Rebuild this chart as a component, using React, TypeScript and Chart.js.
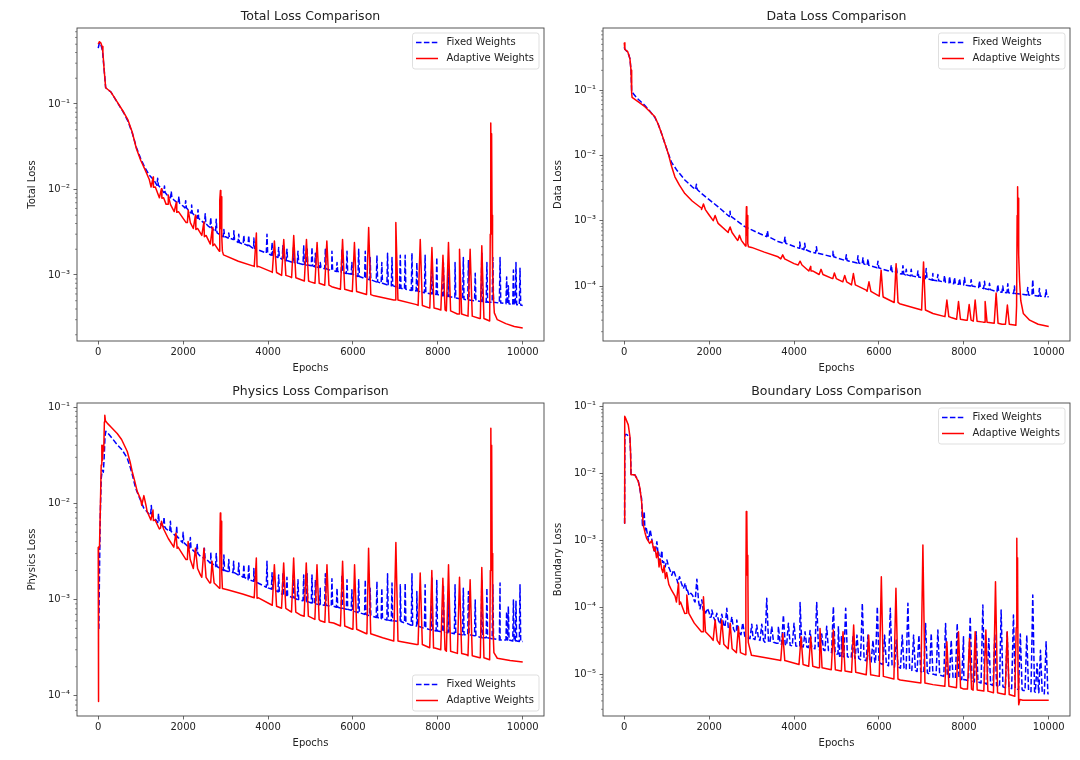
import React, { useEffect, useRef } from "react";
import { Chart, registerables } from "chart.js";

Chart.register(...registerables);

type Pt = [number, number];
type Spike = [number, number, number]; // [epoch, foot value, peak value]

// ---------------- axis ticks / labels ----------------
const epochTicks = [0, 2000, 4000, 6000, 8000, 10000];
const totalDecades = [-3, -2, -1];
const dataDecades = [-4, -3, -2, -1];
const physicsDecades = [-4, -3, -2, -1];
const boundaryDecades = [-5, -4, -3, -2, -1];
const seriesNames = ["Fixed Weights", "Adaptive Weights"];
const minorMultipliers = [2, 3, 4, 5, 6, 7, 8, 9];

// ---------------- Total loss ----------------
const fixedTotal: Pt[] = [
  [0, 0.45], [20, 0.5], [40, 0.52], [70, 0.48], [100, 0.42], [140, 0.25], [175, 0.155], [300, 0.138],
  [450, 0.104], [600, 0.079], [700, 0.063], [800, 0.046], [900, 0.031], [1000, 0.023], [1100, 0.018],
  [1200, 0.0148], [1310, 0.0129], [1450, 0.0107], [1623, 0.0086], [1800, 0.0074], [2015, 0.0063],
  [2200, 0.0053], [2407, 0.0044], [2600, 0.0037], [2800, 0.0031], [3000, 0.0028], [3190, 0.0026],
  [3400, 0.0023], [3661, 0.00205], [4000, 0.00178], [4368, 0.0015], [4760, 0.00135], [5153, 0.00124],
  [5500, 0.00113], [5936, 0.00103], [6329, 0.0009], [6800, 0.00077], [7300, 0.00067], [7898, 0.0006],
  [8400, 0.00054], [9075, 0.00049], [9500, 0.00047], [9999, 0.00044],
];
const fixedTotalSpikes: Spike[] = [
  [1400, 0.0112, 0.0135], [1560, 0.0092, 0.011], [1720, 0.008, 0.0095], [1900, 0.0069, 0.0083],
  [2060, 0.0061, 0.0074], [2200, 0.0053, 0.0066], [2350, 0.0046, 0.0058], [2520, 0.004, 0.0052],
  [2650, 0.0036, 0.0047], [2780, 0.0032, 0.0045], [2960, 0.0028, 0.0034], [3075, 0.0027, 0.0031],
  [3195, 0.0026, 0.0033], [3310, 0.0024, 0.003], [3430, 0.0023, 0.0029], [3545, 0.0022, 0.0029],
  [3665, 0.00205, 0.0027], [3975, 0.0018, 0.003], [4095, 0.0017, 0.0024], [4250, 0.0016, 0.0021],
  [4350, 0.00152, 0.0022], [4445, 0.00147, 0.002], [4600, 0.0014, 0.0021], [4705, 0.00137, 0.0019],
  [4840, 0.00133, 0.0022], [4920, 0.00131, 0.0021], [5035, 0.00128, 0.0021], [5115, 0.00125, 0.0018],
  [5230, 0.00122, 0.0014], [5350, 0.00118, 0.002], [5505, 0.00113, 0.0019], [5625, 0.0011, 0.0014],
  [5740, 0.00107, 0.002], [5860, 0.00104, 0.0019], [5975, 0.00102, 0.0014], [6135, 0.00096, 0.002],
  [6290, 0.00091, 0.0019], [6405, 0.00088, 0.0016], [6565, 0.00083, 0.0017], [6680, 0.0008, 0.0014],
  [6815, 0.00077, 0.0018], [6920, 0.00075, 0.0016], [7115, 0.0007, 0.0017], [7230, 0.00068, 0.0017],
  [7390, 0.00066, 0.0018], [7505, 0.00065, 0.0014], [7700, 0.00062, 0.0017], [7860, 0.0006, 0.0016],
  [7975, 0.00059, 0.0016], [8130, 0.00057, 0.0014], [8250, 0.00056, 0.0012], [8405, 0.00054, 0.0014],
  [8600, 0.00052, 0.0016], [8720, 0.00051, 0.0015], [8880, 0.0005, 0.00105], [9035, 0.00049, 0.0018],
  [9155, 0.00048, 0.0014], [9295, 0.00048, 0.0016], [9465, 0.00047, 0.0016], [9620, 0.00046, 0.00095],
  [9660, 0.00046, 0.00075], [9780, 0.00045, 0.00114], [9840, 0.00045, 0.0014], [9935, 0.000445, 0.0012],
];
const adaptiveTotal: Pt[] = [
  [0, 0.5], [25, 0.535], [60, 0.52], [90, 0.47], [110, 0.4], [140, 0.25], [175, 0.155], [300, 0.138],
  [450, 0.105], [600, 0.08], [700, 0.065], [800, 0.047], [900, 0.03], [1000, 0.022], [1100, 0.0172],
  [1200, 0.0132], [1300, 0.0106], [1500, 0.0079], [1650, 0.0067], [1850, 0.0054], [2000, 0.0046],
  [2100, 0.0041], [2300, 0.0034], [2500, 0.0028], [2700, 0.0022], [2850, 0.0019],
  [2858, 0.0019], [2868, 0.0075], [2878, 0.0097], [2888, 0.0035], [2898, 0.0082], [2910, 0.0028],
  [2925, 0.0019], [2950, 0.00172], [3300, 0.00145], [3741, 0.00125], [4100, 0.00108], [4525, 0.00095],
  [5000, 0.00083], [5500, 0.00073], [6000, 0.00064], [6500, 0.00057], [7000, 0.00051], [7500, 0.00045],
  [8000, 0.0004], [8500, 0.00035], [9000, 0.00031], [9220, 0.00029],
  [9234, 0.003], [9246, 0.06], [9256, 0.012], [9266, 0.045], [9276, 0.005], [9288, 0.0012],
  [9305, 0.0006], [9330, 0.00036], [9400, 0.0003], [9600, 0.00027], [9800, 0.00025], [9999, 0.00024],
];
const adaptiveTotalSpikes: Spike[] = [
  [1295, 0.0107, 0.014], [1490, 0.008, 0.0102], [1650, 0.0067, 0.0086], [1840, 0.0055, 0.0071],
  [2120, 0.0041, 0.0057], [2290, 0.0035, 0.005], [2490, 0.0029, 0.0042], [2690, 0.0023, 0.0036],
  [3725, 0.00126, 0.0031], [4150, 0.00107, 0.0025], [4370, 0.00099, 0.0026], [4605, 0.00093, 0.0029],
  [4905, 0.00085, 0.0026], [5155, 0.0008, 0.0024], [5385, 0.00076, 0.0025], [5755, 0.00068, 0.0026],
  [6035, 0.00064, 0.0024], [6370, 0.00059, 0.0036], [7010, 0.00051, 0.0041], [7585, 0.00044, 0.0026],
  [7860, 0.00041, 0.0021], [8120, 0.00039, 0.0017], [8250, 0.00038, 0.0024], [8510, 0.00035, 0.002],
  [8760, 0.00033, 0.002], [9035, 0.00031, 0.0022],
];

// ---------------- Data loss ----------------
const fixedData: Pt[] = [
  [0, 0.45], [15, 0.42], [50, 0.4], [80, 0.38], [110, 0.34], [135, 0.3], [160, 0.2], [175, 0.095],
  [190, 0.092], [300, 0.075], [487, 0.058], [600, 0.048], [722, 0.038], [800, 0.03], [880, 0.0215],
  [960, 0.015], [1036, 0.0108], [1115, 0.0078], [1250, 0.0058], [1428, 0.0042], [1600, 0.0033],
  [1821, 0.0026], [2000, 0.0021], [2212, 0.00163], [2500, 0.00115], [2840, 0.00081], [3200, 0.00063],
  [3623, 0.00048], [4134, 0.00038], [4409, 0.00033], [4916, 0.000282], [5300, 0.00024], [5700, 0.00021],
  [6100, 0.00018], [6487, 0.000155], [6900, 0.000138], [7271, 0.000123], [7650, 0.000112],
  [8055, 0.000103], [8450, 0.000092], [8840, 0.0000813], [9200, 0.000077], [9600, 0.000072],
  [9999, 0.0000684],
];
const fixedDataSpikes: Spike[] = [
  [1700, 0.003, 0.0036], [2494, 0.00116, 0.0014], [3374, 0.00057, 0.0007], [3786, 0.00045, 0.00056],
  [4134, 0.00038, 0.00047], [4252, 0.00036, 0.00045], [4527, 0.00032, 0.0004], [4918, 0.00028, 0.00034],
  [5231, 0.000245, 0.0003], [5506, 0.000225, 0.00029], [5624, 0.000218, 0.00027], [5741, 0.000207, 0.00026],
  [5976, 0.00019, 0.00024], [6290, 0.000167, 0.00021], [6408, 0.00016, 0.0002], [6565, 0.000152, 0.000205],
  [6643, 0.000148, 0.00018], [6760, 0.000143, 0.00018], [6918, 0.000137, 0.00017], [7113, 0.00013, 0.000185],
  [7270, 0.000123, 0.000155], [7388, 0.00012, 0.00015], [7545, 0.000115, 0.000145], [7663, 0.000112, 0.00014],
  [7780, 0.000108, 0.000135], [7898, 0.000106, 0.00013], [8015, 0.000104, 0.000135], [8172, 0.0001, 0.000125],
  [8368, 0.000095, 0.00012], [8486, 0.000091, 0.000118], [8604, 0.000088, 0.00011], [8800, 0.000082, 0.000105],
  [8917, 0.00008, 0.0001], [9035, 0.000079, 0.000108], [9192, 0.000077, 0.0001], [9505, 0.000073, 0.000095],
  [9623, 0.000072, 0.000125], [9780, 0.00007, 0.000092], [9936, 0.0000685, 0.000088],
];
const adaptiveData: Pt[] = [
  [0, 0.53], [15, 0.42], [50, 0.4], [80, 0.39], [110, 0.34], [135, 0.3], [160, 0.2], [175, 0.09],
  [185, 0.077], [300, 0.068], [487, 0.0556], [600, 0.047], [722, 0.039], [800, 0.03], [880, 0.0217],
  [960, 0.015], [1036, 0.0107], [1115, 0.0068], [1193, 0.0047], [1300, 0.0035], [1428, 0.0026],
  [1600, 0.002], [1821, 0.00155], [2000, 0.00122], [2212, 0.00091], [2450, 0.00068], [2683, 0.00051],
  [2858, 0.00041], [2868, 0.0008], [2878, 0.00163], [2888, 0.0006], [2898, 0.0012], [2910, 0.00045],
  [2925, 0.0004], [3000, 0.00039], [3300, 0.00033], [3623, 0.00028], [4000, 0.00022], [4400, 0.00017],
  [4916, 0.000132], [5300, 0.00011], [5700, 0.0000865], [6100, 0.000068], [6487, 0.0000537],
  [6900, 0.000045], [7271, 0.000038], [7700, 0.000033], [8055, 0.00003], [8500, 0.000028],
  [8900, 0.000026], [9225, 0.000025], [9242, 0.00005], [9255, 0.0012], [9266, 0.0033], [9276, 0.0008],
  [9286, 0.0022], [9296, 0.0003], [9312, 0.00012], [9340, 0.00006], [9400, 0.000038], [9550, 0.00003],
  [9750, 0.000026], [9999, 0.000024],
];
const adaptiveDataSpikes: Spike[] = [
  [1866, 0.00148, 0.0018], [2141, 0.001, 0.0012], [2494, 0.00066, 0.0008], [2714, 0.0005, 0.0006],
  [3733, 0.00026, 0.0003], [4142, 0.00021, 0.00024], [4393, 0.00017, 0.0002], [4636, 0.00015, 0.00018],
  [4950, 0.00013, 0.000158], [5194, 0.000116, 0.000145], [5398, 0.000104, 0.000155], [5765, 0.000083, 0.000116],
  [6051, 0.00007, 0.000175], [6404, 0.000056, 0.00022], [7050, 0.000043, 0.000234], [7600, 0.000034, 0.000061],
  [7874, 0.000031, 0.000058], [8125, 0.00003, 0.000052], [8266, 0.000029, 0.000061], [8501, 0.000028, 0.000058],
  [8760, 0.000027, 0.000078], [9025, 0.000026, 0.000051],
];

// ---------------- Physics loss ----------------
const fixedPhysics: Pt[] = [
  [0, 0.0005], [15, 0.0005], [30, 0.002], [50, 0.008], [70, 0.018], [95, 0.022], [120, 0.021],
  [140, 0.03], [160, 0.05], [180, 0.056], [250, 0.052], [350, 0.046], [447, 0.0406], [560, 0.036],
  [682, 0.0295], [750, 0.024], [800, 0.02], [878, 0.0145], [950, 0.012], [1073, 0.0089], [1200, 0.0077],
  [1388, 0.0065], [1600, 0.0054], [1859, 0.0044], [2100, 0.0036], [2407, 0.0028], [2650, 0.0024],
  [2878, 0.0021], [3200, 0.0019], [3663, 0.00155], [4000, 0.00132], [4368, 0.00112], [4760, 0.00098],
  [5231, 0.00088], [5544, 0.00085], [6000, 0.00076], [6329, 0.00069], [6700, 0.00063], [7113, 0.00059],
  [7500, 0.00053], [7898, 0.00048], [8300, 0.00045], [8682, 0.00043], [9100, 0.0004], [9466, 0.00038],
  [9999, 0.000366],
];
const fixedPhysicsSpikes: Spike[] = [
  [1250, 0.0075, 0.0095], [1420, 0.0063, 0.0078], [1550, 0.0057, 0.0072], [1700, 0.0051, 0.0065],
  [1850, 0.0045, 0.0058], [2000, 0.0039, 0.005], [2170, 0.0034, 0.0044], [2330, 0.003, 0.0038],
  [2500, 0.0027, 0.0034], [2650, 0.0024, 0.0031], [2780, 0.0022, 0.003], [2960, 0.002, 0.0029],
  [3075, 0.00195, 0.0026], [3190, 0.0019, 0.0025], [3310, 0.0018, 0.0024], [3430, 0.0017, 0.0023],
  [3545, 0.0016, 0.0023], [3665, 0.00155, 0.0021], [3975, 0.00134, 0.0025], [4095, 0.00128, 0.0019],
  [4250, 0.0012, 0.0018], [4350, 0.00113, 0.0019], [4445, 0.0011, 0.0017], [4600, 0.00104, 0.0018],
  [4705, 0.001, 0.0016], [4840, 0.00097, 0.0018], [4920, 0.00095, 0.00185], [5035, 0.00092, 0.0018],
  [5115, 0.0009, 0.0016], [5230, 0.00088, 0.00131], [5350, 0.00087, 0.00185], [5505, 0.00085, 0.00164],
  [5625, 0.00083, 0.00131], [5740, 0.00081, 0.0018], [5860, 0.00079, 0.0016], [5975, 0.00077, 0.00126],
  [6135, 0.00073, 0.0016], [6290, 0.0007, 0.0016], [6405, 0.00068, 0.00131], [6565, 0.00065, 0.00154],
  [6680, 0.00063, 0.00131], [6815, 0.00061, 0.00185], [6920, 0.0006, 0.00148], [7115, 0.00059, 0.00142],
  [7230, 0.00057, 0.00148], [7390, 0.00054, 0.00185], [7505, 0.00053, 0.00121], [7700, 0.0005, 0.00142],
  [7860, 0.00048, 0.00167], [7975, 0.00047, 0.0016], [8130, 0.00046, 0.00142], [8250, 0.00045, 0.00121],
  [8405, 0.00044, 0.00142], [8600, 0.00043, 0.00131], [8720, 0.00043, 0.00121], [8880, 0.00042, 0.00099],
  [9035, 0.0004, 0.0016], [9155, 0.0004, 0.00131], [9295, 0.00039, 0.00142], [9465, 0.00038, 0.00148],
  [9620, 0.00038, 0.00075], [9660, 0.00038, 0.00085], [9780, 0.00037, 0.00099], [9840, 0.00037, 0.00096],
  [9935, 0.000366, 0.00142],
];
const adaptivePhysics: Pt[] = [
  [0, 0.0035], [5, 0.000087], [10, 0.0034], [30, 0.0035], [50, 0.009], [70, 0.025], [85, 0.04],
  [100, 0.028], [115, 0.04], [130, 0.035], [145, 0.07], [155, 0.082], [170, 0.072], [212, 0.068],
  [300, 0.062], [447, 0.053], [550, 0.046], [682, 0.0347], [750, 0.027], [800, 0.0214], [860, 0.017],
  [918, 0.0133], [1000, 0.011], [1153, 0.0082], [1300, 0.0066], [1466, 0.0055], [1650, 0.0043],
  [1859, 0.0034], [2100, 0.0026], [2407, 0.0018], [2650, 0.0015], [2855, 0.00131],
  [2866, 0.004], [2876, 0.0079], [2886, 0.003], [2896, 0.0065], [2908, 0.002], [2925, 0.0013],
  [3045, 0.00126], [3400, 0.00114], [3741, 0.00103], [4200, 0.00085], [4760, 0.00069], [5231, 0.0006],
  [5544, 0.00057], [6000, 0.0005], [6329, 0.000447], [6700, 0.0004], [7113, 0.000366], [7500, 0.00034],
  [7898, 0.000313], [8300, 0.00029], [8682, 0.000266], [9000, 0.000248], [9220, 0.000236],
  [9236, 0.002], [9248, 0.06], [9258, 0.008], [9267, 0.04], [9278, 0.003], [9292, 0.0006],
  [9320, 0.00028], [9400, 0.000245], [9700, 0.000232], [9999, 0.000224],
];
const adaptivePhysicsSpikes: Spike[] = [
  [1075, 0.0095, 0.012], [1290, 0.0067, 0.0085], [1490, 0.0054, 0.0065], [1830, 0.0035, 0.0049],
  [2117, 0.0026, 0.004], [2290, 0.0021, 0.0034], [2490, 0.0017, 0.0034], [2680, 0.00148, 0.0025],
  [3724, 0.00104, 0.0027], [4149, 0.00087, 0.0023], [4368, 0.00081, 0.0024], [4603, 0.00074, 0.0027],
  [4900, 0.00067, 0.0024], [5153, 0.00062, 0.0023], [5388, 0.00058, 0.0023], [5756, 0.00053, 0.0025],
  [6038, 0.00049, 0.0023], [6368, 0.00044, 0.0034], [7011, 0.00037, 0.0039], [7584, 0.00034, 0.00188],
  [7858, 0.000315, 0.002], [8118, 0.0003, 0.00166], [8251, 0.00029, 0.0023], [8510, 0.000275, 0.0017],
  [8760, 0.00026, 0.0016], [9035, 0.000248, 0.00215],
];

// ---------------- Boundary loss ----------------
const fixedBoundary: Pt[] = [
  [0, 0.0018], [8, 0.0018], [14, 0.035], [25, 0.038], [60, 0.038], [100, 0.036], [134, 0.034],
  [150, 0.02], [160, 0.0095], [251, 0.0095], [330, 0.0078], [409, 0.0042], [448, 0.002], [487, 0.0014],
  [560, 0.0011], [683, 0.0008], [800, 0.0006], [900, 0.00047], [1076, 0.00036], [1250, 0.00025],
  [1469, 0.00018], [1650, 0.000125], [1859, 0.000091], [2050, 0.000072], [2251, 0.000058], [2450, 0.00005],
  [2643, 0.000043], [2840, 0.000037], [3035, 0.000034], [3400, 0.00003], [3623, 0.000029], [4134, 0.000026],
  [4600, 0.000023], [5035, 0.00002], [5115, 0.0000185], [5700, 0.000016], [6500, 0.0000125],
  [7271, 0.00001], [8000, 0.0000083], [8840, 0.0000065], [9400, 0.0000057], [9999, 0.0000051],
];
const fixedBoundarySpikes: Spike[] = [
  [471, 0.0016, 0.0027], [612, 0.001, 0.00143], [769, 0.00065, 0.00095], [887, 0.00048, 0.0007],
  [1005, 0.0004, 0.00051], [1162, 0.0003, 0.00036], [1303, 0.00023, 0.000286], [1437, 0.00019, 0.00023],
  [1570, 0.00015, 0.000162], [1711, 0.00012, 0.000263], [1828, 0.000095, 0.000129], [1961, 0.000082, 0.0000964],
  [2064, 0.000071, 0.000091], [2181, 0.000063, 0.0000813], [2298, 0.000056, 0.000079], [2416, 0.000051, 0.0000964],
  [2534, 0.000047, 0.0000723], [2651, 0.000043, 0.0000645], [2792, 0.000039, 0.0000588], [3004, 0.000034, 0.000056],
  [3122, 0.000033, 0.0000542], [3240, 0.000032, 0.000056], [3357, 0.00003, 0.000136], [3475, 0.00003, 0.000052],
  [3631, 0.000029, 0.000052], [3749, 0.000028, 0.0000766], [3867, 0.000027, 0.000058], [4000, 0.0000265, 0.000058],
  [4142, 0.000026, 0.000118], [4259, 0.0000255, 0.000043], [4377, 0.000025, 0.000045], [4534, 0.000024, 0.000118],
  [4652, 0.000023, 0.00004], [4769, 0.0000225, 0.000052], [4926, 0.000021, 0.000102], [5044, 0.00002, 0.000052],
  [5115, 0.0000185, 0.0000363], [5216, 0.0000182, 0.0000964], [5388, 0.0000176, 0.0000363], [5482, 0.0000172, 0.0000384],
  [5608, 0.0000165, 0.000115], [5741, 0.0000158, 0.0000384], [5859, 0.0000153, 0.0000324], [5961, 0.0000148, 0.000102],
  [6133, 0.000014, 0.0000384], [6267, 0.0000134, 0.0000964], [6408, 0.0000128, 0.0000324], [6549, 0.0000123, 0.0000384],
  [6682, 0.0000118, 0.000115], [6816, 0.0000114, 0.0000384], [6941, 0.000011, 0.0000384], [7098, 0.0000105, 0.0000575],
  [7231, 0.0000101, 0.0000407], [7388, 0.0000097, 0.0000457], [7569, 0.0000093, 0.0000575], [7702, 0.000009, 0.0000324],
  [7843, 0.0000087, 0.0000575], [7992, 0.0000083, 0.0000363], [8149, 0.000008, 0.0000723], [8290, 0.0000077, 0.000043],
  [8447, 0.0000074, 0.000108], [8588, 0.0000071, 0.0000343], [8729, 0.0000068, 0.00004], [8878, 0.0000065, 0.000091],
  [9020, 0.0000063, 0.000043], [9168, 0.0000061, 0.0000766], [9330, 0.0000059, 0.00004], [9482, 0.0000057, 0.0000384],
  [9623, 0.0000055, 0.000152], [9725, 0.0000054, 0.0000145], [9804, 0.0000053, 0.0000229], [9937, 0.0000051, 0.0000305],
];
const adaptiveBoundary: Pt[] = [
  [0, 0.0018], [8, 0.0018], [15, 0.071], [40, 0.065], [95, 0.053], [134, 0.0355], [150, 0.02], [160, 0.0095],
  [251, 0.0095], [330, 0.0076], [370, 0.006], [409, 0.0038], [448, 0.0017], [490, 0.0013], [527, 0.00107],
  [600, 0.0009], [650, 0.001], [700, 0.0007], [722, 0.0008], [760, 0.00055], [790, 0.00068], [820, 0.0004],
  [850, 0.00052], [880, 0.00038], [910, 0.00033], [940, 0.00042], [970, 0.00027], [1000, 0.00033],
  [1050, 0.00022], [1115, 0.00018], [1200, 0.000145], [1300, 0.00011], [1469, 0.0000813], [1650, 0.000058],
  [1859, 0.000043], [2050, 0.000035], [2251, 0.0000288], [2450, 0.000025], [2643, 0.0000216], [2855, 0.0000195],
  [2865, 0.0002], [2875, 0.0027], [2883, 0.0005], [2891, 0.0024], [2900, 0.0003], [2910, 0.0006],
  [2922, 0.00003], [2997, 0.0000192], [3300, 0.0000178], [3663, 0.0000162], [4134, 0.000014], [4600, 0.0000125],
  [5115, 0.0000112], [5700, 0.0000098], [6500, 0.0000082], [7271, 0.000007], [8000, 0.000006], [8840, 0.0000052],
  [9200, 0.0000047],
  [9233, 0.00005], [9247, 0.00107], [9257, 0.00005], [9265, 0.00055], [9276, 0.00001], [9292, 0.0000035],
  [9320, 0.0000042], [9389, 0.0000041], [9700, 0.0000041], [9999, 0.0000041],
];
const adaptiveBoundarySpikes: Spike[] = [
  [1278, 0.00012, 0.00023], [1474, 0.000081, 0.000152], [1866, 0.000043, 0.000144], [2142, 0.000032, 0.0000645],
  [2298, 0.000028, 0.0000645], [2494, 0.000024, 0.000058], [2690, 0.000021, 0.0000512], [3734, 0.000016, 0.0000407],
  [4165, 0.000014, 0.0000363], [4393, 0.0000132, 0.0000363], [4612, 0.0000125, 0.0000484], [4925, 0.0000117, 0.0000457],
  [5153, 0.0000112, 0.000043], [5404, 0.0000107, 0.0000542], [5757, 0.0000098, 0.0000384], [6056, 0.0000093, 0.000286],
  [6400, 0.0000085, 0.000192], [7035, 0.0000074, 0.00085], [7600, 0.0000066, 0.0000305], [7874, 0.0000063, 0.000043],
  [8133, 0.000006, 0.0000343], [8266, 0.0000058, 0.000043], [8518, 0.0000056, 0.0000457], [8745, 0.0000053, 0.000241],
  [9020, 0.000005, 0.000043],
];

// ---------------- layout / style ----------------
const AXIS_W = 70;
const AXIS_H = 40;
const PAD_T = 28;
const PAD_R = 6;
const FONT = '"DejaVu Sans", "Liberation Sans", sans-serif';
const TEXT = "#222";
const SPINE = "#444";
const BLUE = "#0000ff";
const RED = "#ff0000";

type PanelCfg = {
  title: string;
  yTitle: string;
  fixed: Pt[];
  fixedSpikes: Spike[];
  adaptive: Pt[];
  adaptiveSpikes: Spike[];
  decades: number[];
  yMin: number;
  yMax: number;
  box: [number, number, number, number];
  legend: "upper" | "lower";
  blueHW: number;
  redHW: number;
};

const PANELS: PanelCfg[] = [
  { title: "Total Loss Comparison", yTitle: "Total Loss", fixed: fixedTotal, fixedSpikes: fixedTotalSpikes,
    adaptive: adaptiveTotal, adaptiveSpikes: adaptiveTotalSpikes, decades: totalDecades,
    yMin: 1.69e-4, yMax: 0.774, box: [77, 28, 544, 341], legend: "upper", blueHW: 16, redHW: 50 },
  { title: "Data Loss Comparison", yTitle: "Data Loss", fixed: fixedData, fixedSpikes: fixedDataSpikes,
    adaptive: adaptiveData, adaptiveSpikes: adaptiveDataSpikes, decades: dataDecades,
    yMin: 1.44e-5, yMax: 0.89, box: [603, 28, 1070, 341], legend: "upper", blueHW: 20, redHW: 45 },
  { title: "Physics Loss Comparison", yTitle: "Physics Loss", fixed: fixedPhysics, fixedSpikes: fixedPhysicsSpikes,
    adaptive: adaptivePhysics, adaptiveSpikes: adaptivePhysicsSpikes, decades: physicsDecades,
    yMin: 6.15e-5, yMax: 0.1101, box: [77, 403, 544, 716], legend: "lower", blueHW: 16, redHW: 50 },
  { title: "Boundary Loss Comparison", yTitle: "Boundary Loss", fixed: fixedBoundary, fixedSpikes: fixedBoundarySpikes,
    adaptive: adaptiveBoundary, adaptiveSpikes: adaptiveBoundarySpikes, decades: boundaryDecades,
    yMin: 2.38e-6, yMax: 0.1124, box: [603, 403, 1070, 716], legend: "upper", blueHW: 42, redHW: 48 },
];

const SUP: Record<string, string> = {
  "-": "\u207b", "0": "\u2070", "1": "\u00b9", "2": "\u00b2", "3": "\u00b3", "4": "\u2074",
  "5": "\u2075", "6": "\u2076", "7": "\u2077", "8": "\u2078", "9": "\u2079",
};
const powLabel = (v: number) => {
  const e = Math.round(Math.log10(v));
  return "10" + String(e).split("").map((c) => SUP[c] || c).join("");
};

function buildSeries(base: Pt[], spikes: Spike[], hw: number) {
  const pts: Pt[] = base.slice();
  for (const [e, foot, peak] of spikes) {
    pts.push([e - hw, foot], [e, peak], [e + hw, foot]);
  }
  pts.sort((a, b) => a[0] - b[0]);
  return pts.map(([x, y]) => ({ x, y }));
}

function roundRectPath(ctx: CanvasRenderingContext2D, x: number, y: number, w: number, h: number, r: number) {
  ctx.beginPath();
  ctx.moveTo(x + r, y);
  ctx.lineTo(x + w - r, y);
  ctx.arcTo(x + w, y, x + w, y + r, r);
  ctx.lineTo(x + w, y + h - r);
  ctx.arcTo(x + w, y + h, x + w - r, y + h, r);
  ctx.lineTo(x + r, y + h);
  ctx.arcTo(x, y + h, x, y + h - r, r);
  ctx.lineTo(x, y + r);
  ctx.arcTo(x, y, x + r, y, r);
  ctx.closePath();
}

function makeDecor(cfg: PanelCfg) {
  return {
    id: "decor",
    afterDraw(chart: any) {
      const ctx: CanvasRenderingContext2D = chart.ctx;
      const a = chart.chartArea;
      const ys = chart.scales.y;
      ctx.save();
      // minor ticks of the log axis
      ctx.strokeStyle = SPINE;
      ctx.lineWidth = 0.6;
      const lo = Math.floor(Math.log10(cfg.yMin));
      const hi = Math.ceil(Math.log10(cfg.yMax));
      for (let d = lo; d <= hi; d++) {
        for (const m of minorMultipliers) {
          const v = m * Math.pow(10, d);
          if (v < cfg.yMin || v > cfg.yMax) continue;
          const py = ys.getPixelForValue(v);
          ctx.beginPath();
          ctx.moveTo(a.left - 2, py);
          ctx.lineTo(a.left, py);
          ctx.stroke();
        }
      }
      // frame
      ctx.lineWidth = 0.9;
      ctx.strokeRect(a.left, a.top, a.right - a.left, a.bottom - a.top);
      // title
      ctx.fillStyle = TEXT;
      ctx.font = `12.5px ${FONT}`;
      ctx.textAlign = "center";
      ctx.textBaseline = "middle";
      ctx.fillText(cfg.title, (a.left + a.right) / 2, a.top - 11);
      // legend
      ctx.font = `10px ${FONT}`;
      const tw = Math.max(...seriesNames.map((s) => ctx.measureText(s).width));
      const w = 3.5 + 22 + 8.5 + tw + 5;
      const h = 36;
      const x = a.right - 5 - w;
      const y = cfg.legend === "upper" ? a.top + 5 : a.bottom - 5 - h;
      roundRectPath(ctx, x, y, w, h, 2.5);
      ctx.fillStyle = "rgba(255,255,255,0.8)";
      ctx.fill();
      ctx.strokeStyle = "rgba(204,204,204,0.8)";
      ctx.lineWidth = 0.8;
      ctx.stroke();
      const rows = [y + 9.5, y + 25.5];
      const colors = [BLUE, RED];
      const dashes = [[5.5, 2.4], []];
      rows.forEach((ry, i) => {
        ctx.beginPath();
        ctx.setLineDash(dashes[i]);
        ctx.strokeStyle = colors[i];
        ctx.lineWidth = 1.5;
        ctx.moveTo(x + 3.5, ry);
        ctx.lineTo(x + 25.5, ry);
        ctx.stroke();
        ctx.setLineDash([]);
        ctx.fillStyle = TEXT;
        ctx.textAlign = "left";
        ctx.textBaseline = "middle";
        ctx.fillText(seriesNames[i], x + 34, ry);
      });
      ctx.restore();
    },
  };
}

function LossPanel({ cfg }: { cfg: PanelCfg }) {
  const ref = useRef<HTMLCanvasElement>(null);
  const [L, T, R, B] = cfg.box;
  const width = R - L + AXIS_W + PAD_R;
  const height = B - T + PAD_T + AXIS_H;

  useEffect(() => {
    if (!ref.current) return;
    const tickFont = { family: FONT, size: 10 };
    const chart = new Chart(ref.current, {
      type: "line",
      data: {
        datasets: [
          {
            label: seriesNames[0],
            data: buildSeries(cfg.fixed, cfg.fixedSpikes, cfg.blueHW),
            borderColor: BLUE,
            borderWidth: 1.5,
            borderDash: [5.5, 2.4],
            borderJoinStyle: "round",
            borderCapStyle: "butt",
            pointRadius: 0,
            fill: false,
            tension: 0,
            order: 1,
          },
          {
            label: seriesNames[1],
            data: buildSeries(cfg.adaptive, cfg.adaptiveSpikes, cfg.redHW),
            borderColor: RED,
            borderWidth: 1.5,
            borderJoinStyle: "round",
            pointRadius: 0,
            fill: false,
            tension: 0,
            order: 0,
          },
        ],
      } as any,
      options: {
        animation: false,
        responsive: false,
        events: [],
        layout: { padding: { top: PAD_T, right: PAD_R, left: 0, bottom: 0 } },
        plugins: {
          legend: { display: false },
          title: { display: false },
          tooltip: { enabled: false },
        },
        scales: {
          x: {
            type: "linear",
            min: -500,
            max: 10500,
            afterFit: (s: any) => { s.height = AXIS_H; },
            afterBuildTicks: (s: any) => { s.ticks = epochTicks.map((v) => ({ value: v })); },
            ticks: {
              font: tickFont, color: TEXT, padding: 2, maxRotation: 0, autoSkip: false,
              callback: (v: any) => String(v),
            },
            grid: { display: true, drawOnChartArea: false, drawTicks: true, tickLength: 3.5, tickColor: SPINE, tickWidth: 0.8 },
            border: { display: false },
            title: { display: true, text: "Epochs", font: tickFont, color: TEXT, padding: { top: 0, bottom: 6.7 } },
          },
          y: {
            type: "logarithmic",
            min: cfg.yMin,
            max: cfg.yMax,
            afterFit: (s: any) => { s.width = AXIS_W; },
            afterBuildTicks: (s: any) => { s.ticks = cfg.decades.map((d) => ({ value: Math.pow(10, d) })); },
            ticks: {
              font: tickFont, color: TEXT, padding: 3.5, autoSkip: false,
              callback: (v: any) => powLabel(Number(v)),
            },
            grid: { display: true, drawOnChartArea: false, drawTicks: true, tickLength: 3.5, tickColor: SPINE, tickWidth: 0.8 },
            border: { display: false },
            title: { display: true, text: cfg.yTitle, font: tickFont, color: TEXT, padding: { top: 19.5, bottom: 0 } },
          },
        },
      } as any,
      plugins: [makeDecor(cfg)],
    });
    return () => chart.destroy();
  }, [cfg]);

  return (
    <canvas
      ref={ref}
      width={width}
      height={height}
      style={{ position: "absolute", left: L - AXIS_W, top: T - PAD_T, width, height }}
    />
  );
}

export default function App() {
  return (
    <div style={{ position: "fixed", left: 0, top: 0, width: 1080, height: 760, background: "#fff", overflow: "hidden" }}>
      {PANELS.map((p) => (
        <LossPanel key={p.title} cfg={p} />
      ))}
    </div>
  );
}
